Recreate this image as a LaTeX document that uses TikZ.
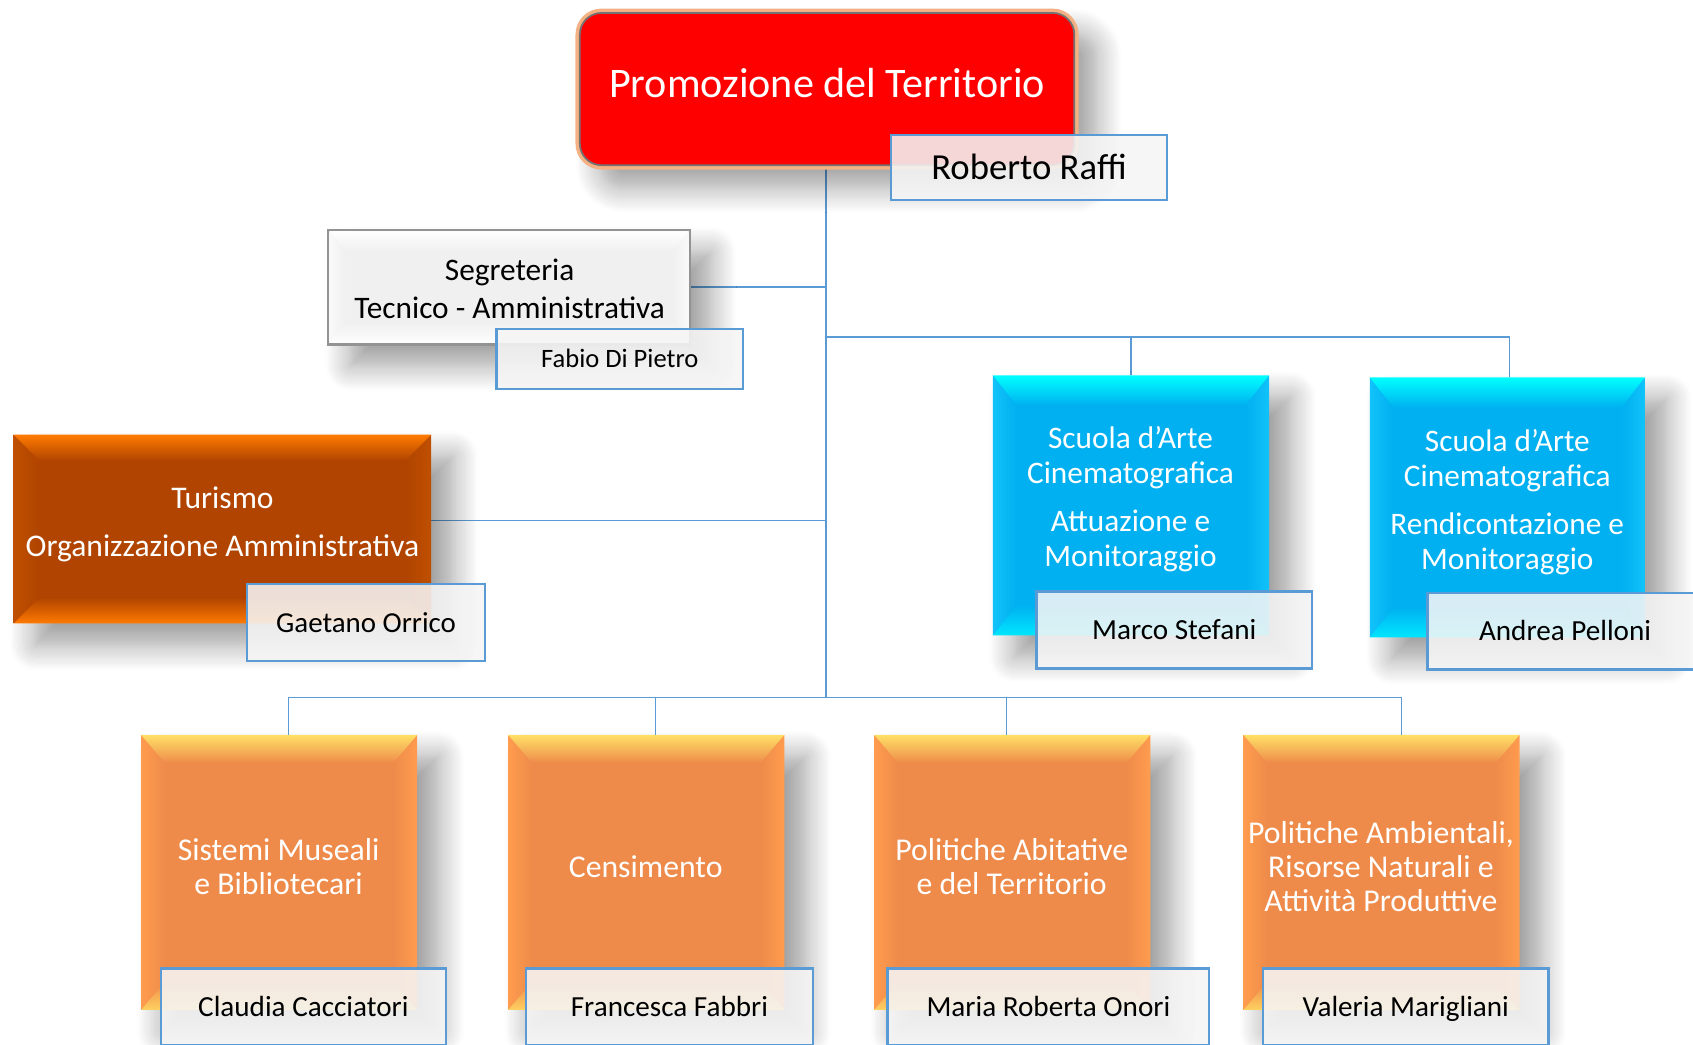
\documentclass[tikz,border=0pt]{standalone}
\usepackage{fontspec}
\setmainfont{Carlito}
\usetikzlibrary{shadows.blur,backgrounds,calc}
\definecolor{lineblue}{HTML}{5B9BD5}
\definecolor{orMain}{HTML}{EE8B4A}
\definecolor{orTop}{HTML}{FFE066}
\definecolor{orSide}{HTML}{FF9C4E}
\definecolor{orBot}{HTML}{FFD060}
\definecolor{blMain}{HTML}{00B0F0}
\definecolor{blTop}{HTML}{00FFFF}
\definecolor{blSide}{HTML}{12C2FA}
\definecolor{blBot}{HTML}{00E6FF}
\definecolor{tuMain}{HTML}{B04400}
\definecolor{tuTop}{HTML}{FF7A00}
\definecolor{tuSide}{HTML}{C05000}
\definecolor{sgMain}{HTML}{F0F0F0}
\definecolor{glow}{HTML}{F4B183}
\tikzset{
  conn/.style={draw=lineblue, line width=0.7pt},
  shad/.style={blur shadow={shadow xshift=10pt, shadow yshift=-10pt, shadow blur radius=12pt, shadow blur steps=12, shadow opacity=40}},
  boxbase/.style={rectangle, inner sep=0pt, shad},
  orangebox/.style={boxbase, fill=orMain, minimum width=127.5pt, minimum height=127pt},
  bluebox/.style={boxbase, fill=blMain, minimum width=127.5pt, minimum height=120pt},
  turbox/.style={boxbase, fill=tuMain, minimum width=193pt, minimum height=87pt},
  segbox/.style={boxbase, fill=sgMain, draw=gray!85, line width=1pt, minimum width=166.5pt, minimum height=52pt},
  topbox/.style={rectangle, rounded corners=10pt, shad, preaction={draw=glow, line width=4pt}, fill=red, draw=gray!90!black, line width=0.8pt, minimum width=229pt, minimum height=70.5pt},
  namebox/.style={rectangle, draw=lineblue, line width=1.1pt, fill=white!96!black, fill opacity=0.88, text opacity=1, inner sep=0pt, text=black, execute at begin node={\rule[-0.22em]{0pt}{1.1em}}},
  wtext/.style={text=white, align=center},
  btext/.style={text=black, align=center},
}
\newcommand\bevbox[7]{% node, dx, dy, light top, main, side, light bottom
  \shade[left color=#6, right color=#5] (#1.north west) -- ($(#1.north west)+(#2,-#3)$) -- ($(#1.south west)+(#2,#3)$) -- (#1.south west) -- cycle;
  \shade[right color=#6, left color=#5] (#1.north east) -- ($(#1.north east)+(-#2,-#3)$) -- ($(#1.south east)+(-#2,#3)$) -- (#1.south east) -- cycle;
  \shade[top color=#4, bottom color=#5] (#1.north west) -- (#1.north east) -- ($(#1.north east)+(-#2,-#3)$) -- ($(#1.north west)+(#2,-#3)$) -- cycle;
  \shade[bottom color=#7, top color=#5] (#1.south west) -- (#1.south east) -- ($(#1.south east)+(-#2,#3)$) -- ($(#1.south west)+(#2,#3)$) -- cycle;
}
\begin{document}
\begin{tikzpicture}[x=0.5pt,y=-0.5pt]
\useasboundingbox (0,0) rectangle (1568,967);

% ---- top
\node[topbox] (top) at (766,82.5) {};
\node[wtext, font=\fontsize{19.5}{22}\selectfont] (toptxt) at (766,77) {Promozione del Territorio};
\node[namebox, minimum width=128pt, minimum height=30pt, font=\fontsize{17}{20}\selectfont] (raffi) at (953,155) {Roberto Raffi};

% ---- segreteria
\node[segbox] (seg) at (471.5,266) {};
\bevbox{seg}{8pt}{10pt}{white}{sgMain}{white!98!black}{white}
\draw[gray!85, line width=1pt] (seg.north west) rectangle (seg.south east);
\node[btext, font=\fontsize{14.5}{17.5}\selectfont] (segtxt) at (472,267.5) {Segreteria\\Tecnico - Amministrativa};
\node[namebox, minimum width=114pt, minimum height=27.5pt, font=\fontsize{12.3}{14}\selectfont] (fabio) at (574,332.5) {Fabio Di Pietro};

% ---- turismo
\node[turbox] (tur) at (206,490) {};
\bevbox{tur}{12pt}{12pt}{tuTop}{tuMain}{tuSide}{tuTop}
\node[wtext, font=\fontsize{14.6}{22.5}\selectfont] (turtxt) at (206,485.5) {Turismo\\Organizzazione Amministrativa};
\node[namebox, minimum width=110pt, minimum height=35.5pt, font=\fontsize{13.4}{15}\selectfont] (gaet) at (339,576.5) {Gaetano Orrico};

% ---- scuola boxes
\node[bluebox] (sc1) at (1047.5,468) {};
\bevbox{sc1}{11pt}{14pt}{blTop}{blMain}{blSide}{blBot}
\node[wtext, font=\fontsize{14.5}{16.2}\selectfont] (sc1txt) at (1047,462.5) {Scuola d’Arte\\Cinematografica\\[6pt]Attuazione e\\Monitoraggio};
\node[namebox, minimum width=127.5pt, minimum height=35.5pt, font=\fontsize{13.5}{15}\selectfont] (marco) at (1087.5,583.5) {Marco Stefani};

\node[bluebox, minimum width=127pt] (sc2) at (1396,470) {};
\bevbox{sc2}{11pt}{14pt}{blTop}{blMain}{blSide}{blBot}
\node[wtext, font=\fontsize{14.5}{16.2}\selectfont] (sc2txt) at (1396,465) {Scuola d’Arte\\Cinematografica\\[6pt]Rendicontazione e\\Monitoraggio};
\node[namebox, minimum width=127.5pt, minimum height=35.5pt, font=\fontsize{13.5}{15}\selectfont] (andrea) at (1449.5,584.5) {Andrea Pelloni};

% ---- bottom orange boxes
\node[orangebox] (o1) at (258.5,808) {};
\bevbox{o1}{11pt}{13pt}{orTop}{orMain}{orSide}{orBot}
\node[orangebox] (o2) at (598.5,808) {};
\bevbox{o2}{11pt}{13pt}{orTop}{orMain}{orSide}{orBot}
\node[orangebox] (o3) at (937.5,808) {};
\bevbox{o3}{11pt}{13pt}{orTop}{orMain}{orSide}{orBot}
\node[orangebox] (o4) at (1279.5,808) {};
\bevbox{o4}{11pt}{13pt}{orTop}{orMain}{orSide}{orBot}

\node[wtext, font=\fontsize{14.7}{15.6}\selectfont] (o1txt) at (258,802.5) {Sistemi Museali\\e Bibliotecari};
\node[wtext, font=\fontsize{14.7}{15.6}\selectfont] (o2txt) at (598,803) {Censimento};
\node[wtext, font=\fontsize{14.7}{15.6}\selectfont] (o3txt) at (937,802.5) {Politiche Abitative\\e del Territorio};
\node[wtext, font=\fontsize{14.7}{15.8}\selectfont] (o4txt) at (1279,802.5) {Politiche Ambientali,\\Risorse Naturali e\\Attività Produttive};

\node[namebox, minimum width=132pt, minimum height=35.5pt, font=\fontsize{13.5}{15}\selectfont] (n1) at (281,932.5) {Claudia Cacciatori};
\node[namebox, minimum width=133pt, minimum height=35.5pt, font=\fontsize{13.5}{15}\selectfont] (n2) at (620,932.5) {Francesca Fabbri};
\node[namebox, minimum width=149pt, minimum height=35.5pt, font=\fontsize{13.5}{15}\selectfont] (n3) at (971,932.5) {Maria Roberta Onori};
\node[namebox, minimum width=132pt, minimum height=35.5pt, font=\fontsize{13.5}{15}\selectfont] (n4) at (1302,932.5) {Valeria Marigliani};

% ---- connectors
\begin{pgfonlayer}{background}
\coordinate (hubA) at (765,312);
\coordinate (hub) at (765,646);
\draw[conn] (top.south -| hub) -- (hub);
\draw[conn] (seg.east) -- (seg.east -| hub);
\draw[conn] ($(tur.east)+(0,4pt)$) -- ($(tur.east -| hub)+(0,4pt)$);
\draw[conn] (hubA) -| (sc1.north);
\draw[conn] (hubA) -| ($(sc2.north)+(1pt,0)$);
\draw[conn] (hub) -| ($(o1.north)+(4.25pt,0)$);
\draw[conn] (hub) -| ($(o2.north)+(4.25pt,0)$);
\draw[conn] (hub) -| ($(o3.north)+(-2.75pt,0)$);
\draw[conn] (hub) -| ($(o4.north)+(9.25pt,0)$);
\end{pgfonlayer}
\end{tikzpicture}
\end{document}
